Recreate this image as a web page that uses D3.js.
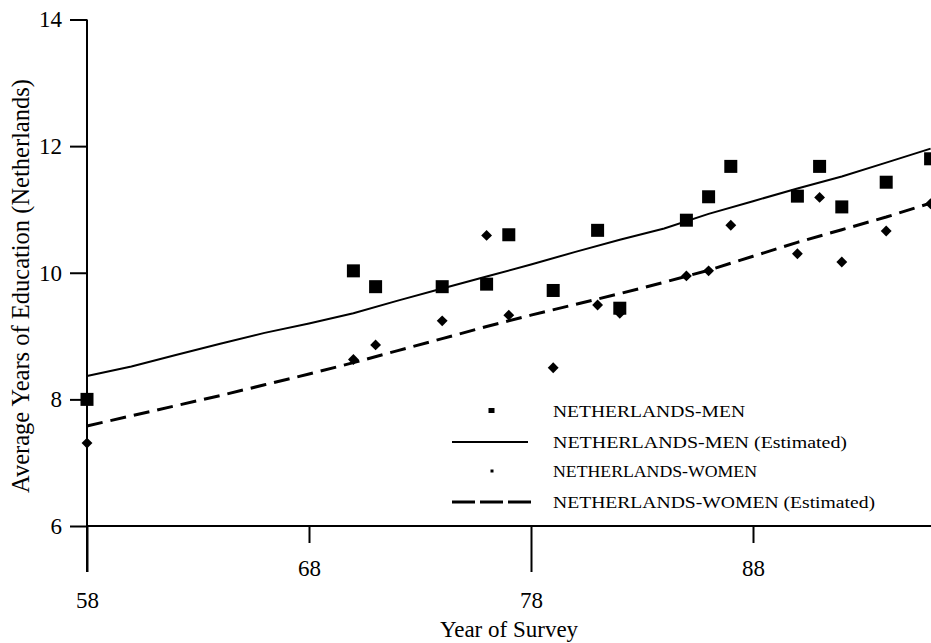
<!DOCTYPE html>
<html>
<head>
<meta charset="utf-8">
<script src="https://cdn.jsdelivr.net/npm/d3@7"></script>
<style>
  html, body { margin: 0; padding: 0; background: #fff; overflow: hidden; }
  svg { display: block; font-family: "Liberation Serif", "Times New Roman", serif; }
</style>
</head>
<body>
<svg id="chart" width="931" height="643"></svg>
<script>
// ---- data ----
const years       = [58, 70, 71, 74, 76, 77, 79, 81, 82, 85, 86, 87, 90, 91, 92, 94, 96];
const menValues   = [8.00, 10.03, 9.78, 9.78, 9.82, 10.60, 9.72, 10.67, 9.44, 10.83, 11.20, 11.68, 11.21, 11.68, 11.04, 11.43, 11.80];
const womenValues = [7.31, 8.63, 8.86, 9.24, 10.59, 9.33, 8.50, 9.49, 9.36, 9.95, 10.03, 10.75, 10.30, 11.19, 10.17, 10.66, 11.09];

const estYears       = [58, 60, 62, 64, 66, 68, 70, 72, 74, 76, 78, 80, 82, 84, 86, 88, 90, 92, 94, 96];
const menEstimated   = [8.37, 8.52, 8.70, 8.88, 9.05, 9.20, 9.36, 9.56, 9.75, 9.94, 10.13, 10.33, 10.52, 10.70, 10.93, 11.13, 11.33, 11.52, 11.74, 11.96];
const womenEstimated = [7.58, 7.74, 7.90, 8.06, 8.23, 8.40, 8.58, 8.77, 8.96, 9.15, 9.33, 9.50, 9.67, 9.85, 10.04, 10.26, 10.48, 10.68, 10.88, 11.10];

const xTickValues = [58, 68, 78, 88];
const yTickValues = [6, 8, 10, 12, 14];

const legendLabels = ["NETHERLANDS-MEN", "NETHERLANDS-MEN (Estimated)", "NETHERLANDS-WOMEN", "NETHERLANDS-WOMEN (Estimated)"];
const xTitle = "Year of Survey";
const yTitle = "Average Years of Education (Netherlands)";

// ---- layout ----
const svg = d3.select("#chart");
const x = d3.scaleLinear().domain([58, 96]).range([87, 930.6]);
const y = d3.scaleLinear().domain([6, 14]).range([526, 19.5]);

// ---- axes ----
const yAxis = d3.axisLeft(y).tickValues(yTickValues).tickSize(17).tickPadding(8).tickFormat(d3.format("d"));
const gy = svg.append("g").attr("transform", "translate(87,0)").call(yAxis);
gy.select(".domain").remove();
gy.selectAll(".tick line").attr("stroke", "#000").attr("stroke-width", 2);
gy.selectAll(".tick text").attr("font-size", 23).attr("font-family", "Liberation Serif").attr("fill", "#000");

// y axis line (extends down past x axis)
svg.append("line").attr("x1", 87).attr("x2", 87).attr("y1", y(14)).attr("y2", 572)
  .attr("stroke", "#000").attr("stroke-width", 2);

const xAxis = d3.axisBottom(x).tickValues(xTickValues).tickFormat(d3.format("d"));
const gx = svg.append("g").attr("transform", `translate(0,${y(6)})`).call(xAxis);
gx.select(".domain").remove();
gx.selectAll(".tick line")
  .attr("stroke", "#000").attr("stroke-width", 2)
  .attr("y2", (d, i) => i % 2 === 0 ? 46 : 17);
gx.selectAll(".tick text")
  .attr("font-size", 23).attr("font-family", "Liberation Serif").attr("fill", "#000")
  .attr("dy", null)
  .attr("y", (d, i) => i % 2 === 0 ? 82 : 50);

// x axis line
svg.append("line").attr("x1", 87).attr("x2", 931).attr("y1", y(6)).attr("y2", y(6))
  .attr("stroke", "#000").attr("stroke-width", 2);

// axis titles
svg.append("text").attr("x", 509).attr("y", 637).attr("text-anchor", "middle")
  .attr("font-size", 23).text(xTitle);
svg.append("text").attr("transform", "translate(29,286) rotate(-90)").attr("text-anchor", "middle")
  .attr("font-size", 24.5).text(yTitle);

// ---- lines ----
const line = d3.line().x(d => x(d[0])).y(d => y(d[1]));
svg.append("path").datum(estYears.map((yr, i) => [yr, menEstimated[i]]))
  .attr("d", line).attr("fill", "none").attr("stroke", "#000").attr("stroke-width", 2);
svg.append("path").datum(estYears.map((yr, i) => [yr, womenEstimated[i]]))
  .attr("d", line).attr("fill", "none").attr("stroke", "#000").attr("stroke-width", 3)
  .attr("stroke-dasharray", "16,8");

// ---- markers ----
const sq = 13;
svg.append("g").selectAll("rect").data(years.map((yr, i) => [yr, menValues[i]])).join("rect")
  .attr("x", d => x(d[0]) - sq / 2).attr("y", d => y(d[1]) - sq / 2)
  .attr("width", sq).attr("height", sq).attr("fill", "#000");

const diamond = d3.symbol().type(d3.symbolDiamond2).size(75);
svg.append("g").selectAll("path").data(years.map((yr, i) => [yr, womenValues[i]])).join("path")
  .attr("transform", d => `translate(${x(d[0])},${y(d[1])})`)
  .attr("d", diamond).attr("fill", "#000");

// ---- legend ----
const lg = svg.append("g");
const rowY = [411, 442, 471, 502];
const textW = [192, 294, 204, 322];
lg.append("rect").attr("x", 488.5).attr("y", rowY[0] - 3).attr("width", 6).attr("height", 5).attr("fill", "#000");
lg.append("line").attr("x1", 452).attr("x2", 528).attr("y1", rowY[1]).attr("y2", rowY[1])
  .attr("stroke", "#000").attr("stroke-width", 2);
lg.append("rect").attr("x", 490.5).attr("y", rowY[2] - 1.5).attr("width", 3).attr("height", 3).attr("fill", "#000");
lg.append("line").attr("x1", 452).attr("x2", 531).attr("y1", rowY[3]).attr("y2", rowY[3])
  .attr("stroke", "#000").attr("stroke-width", 3).attr("stroke-dasharray", "23,5");
lg.selectAll("text").data(legendLabels).join("text")
  .attr("x", 553).attr("y", (d, i) => rowY[i] + 6)
  .attr("font-size", 17)
  .attr("textLength", (d, i) => textW[i])
  .attr("lengthAdjust", "spacingAndGlyphs")
  .text(d => d);
</script>
</body>
</html>
